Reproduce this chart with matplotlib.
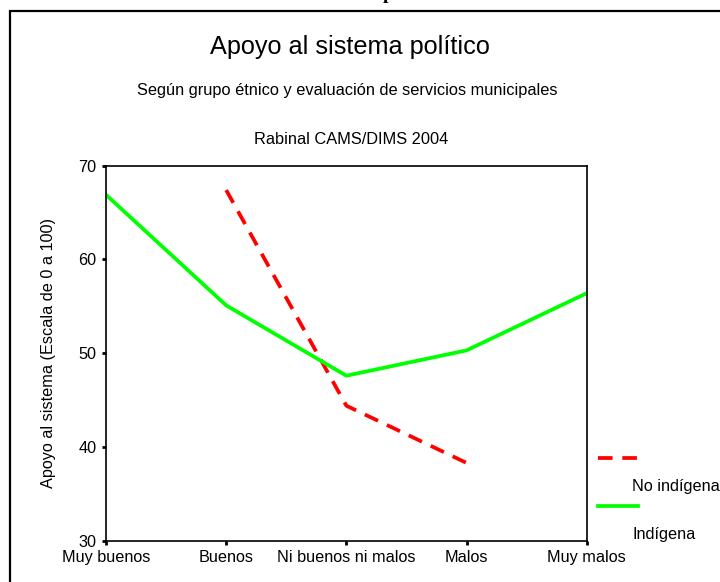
import matplotlib
matplotlib.use("Agg")
import matplotlib.pyplot as plt
from matplotlib.lines import Line2D
from matplotlib.patches import Rectangle
import numpy as np

plt.rcParams['font.family'] = ['Liberation Sans', 'DejaVu Sans']
plt.rcParams['lines.scale_dashes'] = False

# categories (evaluacion de servicios municipales)
categories = ['Muy buenos', 'Buenos', 'Ni buenos ni malos', 'Malos', 'Muy malos']
# apoyo al sistema por grupo etnico
no_indigena = [np.nan, 67.4, 44.4, 38.3, np.nan]
indigena = [66.9, 55.1, 47.6, 50.3, 56.4]
y_ticks = [30, 40, 50, 60, 70]

red_dash = (10.5, 7)

fig = plt.figure(figsize=(7.2, 5.82), dpi=100)
ax = fig.add_axes([106 / 720, 1 - 540.7 / 582, 480.7 / 720, 375 / 582])

x = np.arange(len(categories))
ax.plot(x, no_indigena, color='#ff0000', lw=2.7, dashes=red_dash)
ax.plot(x, indigena, color='#00ff00', lw=2.7)

ax.set_xlim(0, 4)
ax.set_ylim(30, 70)
ax.set_xticks(x)
ax.set_xticklabels(categories, fontsize=11.7)
ax.set_yticks(y_ticks)
ax.set_yticklabels([str(v) for v in y_ticks], fontsize=11.7)
ax.tick_params(direction='out', length=3, width=2, pad=4)
for s in ax.spines.values():
    s.set_linewidth(1.2)
ax.set_ylabel('Apoyo al sistema (Escala de 0 a 100)', fontsize=11.7)
ax.yaxis.set_label_coords(-0.104, 0.5)

# titles
fig.text(350 / 720, 1 - 47 / 582, 'Apoyo al sistema político', fontsize=18.2,
         ha='center', va='center')
fig.text(347 / 720, 1 - 90 / 582,
         'Según grupo étnico y evaluación de servicios municipales',
         fontsize=11.8, ha='center', va='center')
fig.text(351 / 720, 1 - 140 / 582, 'Rabinal CAMS/DIMS 2004', fontsize=11.8,
         ha='center', va='center')

# legend (SPSS style, labels under the line samples)
fig.add_artist(Line2D([598 / 720, 638 / 720], [1 - 458 / 582] * 2,
                      color='#ff0000', lw=2.7, dashes=red_dash))
fig.text(632 / 720, 1 - 487 / 582, 'No indígena', fontsize=11.7, va='center')
fig.add_artist(Line2D([598 / 720, 638 / 720], [1 - 506 / 582] * 2,
                      color='#00ff00', lw=2.7))
fig.text(632 / 720, 1 - 535 / 582, 'Indígena', fontsize=11.7, va='center')

# outer frame (cut at right and bottom)
fig.add_artist(Rectangle((10 / 720, -0.1), 1.0, 1.1 - 11 / 582,
                         transform=fig.transFigure, fill=False,
                         edgecolor='black', lw=1.6))
# cut-off heading above the frame
fig.text(388 / 720, 1 + 1 / 582, 'p', fontsize=14, fontweight='bold',
         family='Liberation Serif', ha='center', va='baseline')

fig.savefig('out.png', dpi=100)
